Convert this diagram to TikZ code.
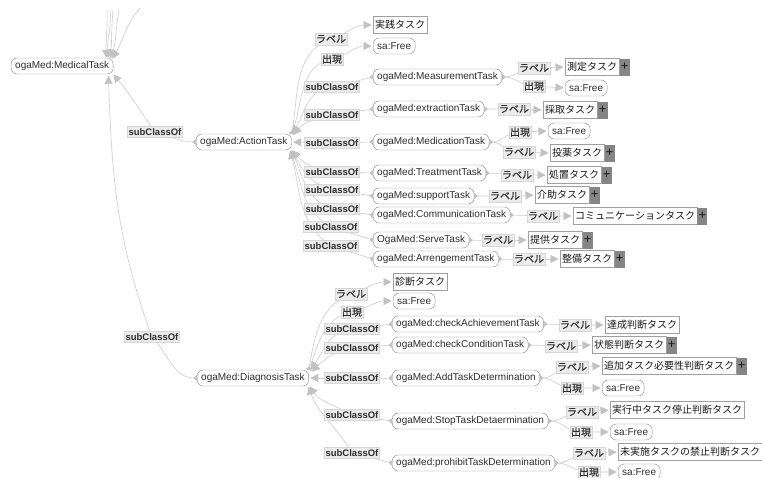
\documentclass[tikz,border=0pt]{standalone}
\usepackage{fontspec}
\setmainfont{Liberation Sans}
\newfontfamily\jpfont{Noto Sans CJK JP}
\newfontfamily\jprelfont[FakeBold=0.8]{Noto Sans CJK JP}
\usetikzlibrary{arrows.meta,calc,backgrounds}

\definecolor{txt}{HTML}{2E2E2E}
\definecolor{clsline}{HTML}{8C8C8C}
\definecolor{litline}{HTML}{A0A0A0}
\definecolor{relfill}{HTML}{EBEBEB}
\definecolor{relline}{HTML}{D6D6D6}
\definecolor{edgecol}{HTML}{CDCDCD}
\definecolor{tipcol}{HTML}{C2C2C2}
\definecolor{plusfill}{HTML}{858585}

\newcommand\dsize{\fontsize{10}{12}\selectfont}

\tikzset{
  cls/.style={draw=clsline, fill=white, rounded corners=6pt, text=txt, font=\dsize,
    inner xsep=4pt, inner ysep=0pt, minimum height=16pt, anchor=west},
  lit/.style={draw=litline, fill=white, text=black!90, font=\jpfont\dsize,
    inner xsep=2pt, inner ysep=0pt, minimum height=17pt, anchor=west},
  plusbox/.style={fill=plusfill, text=black!90, font=\fontsize{13}{13}\selectfont, inner sep=0pt,
    minimum width=10pt, minimum height=17pt, anchor=west},
  rel/.style={fill=relfill, draw=relline, text=txt, font=\jprelfont\dsize,
    inner xsep=1pt, inner ysep=0.5pt, minimum height=12pt},
  sub/.style={rel, font=\bfseries\fontsize{9.5}{11}\selectfont, minimum height=11pt},
  link/.style={draw=edgecol, line width=0.6pt, shorten >=1.5pt,
    {Triangle[reversed,length=3.5pt,width=6pt,color=tipcol]}-{Triangle[length=8pt,width=8pt,color=tipcol]}},
  head/.style={draw=edgecol, line width=0.6pt, -{Triangle[length=8pt,width=8pt,color=tipcol]}}
}

\begin{document}
\begin{tikzpicture}[x=1pt,y=-1pt]
\useasboundingbox (0,0) rectangle (762,477);

% ---------- class hierarchy roots ----------
\node[cls] (M) at (11,66) {ogaMed:MedicalTask};
\node[cls] (A) at (196,142) {ogaMed:ActionTask};
\node[cls] (D) at (197,378) {ogaMed:DiagnosisTask};
\node[sub] (lAM) at (155,132) {subClassOf};
\node[sub] (lDM) at (152,337) {subClassOf};

% ---------- ActionTask ----------
\node[rel] (aL) at (331,39) {ラベル};
\node[lit] (aLv) at (373,25) {実践タスク};
\node[rel] (aO) at (332,59) {出現};
\node[cls] (aOv) at (373,46) {sa:Free};

\node[cls] (c1) at (373,77) {ogaMed:MeasurementTask};
\node[sub] (s1) at (332,87) {subClassOf};
\node[rel] (c1L) at (534,68) {ラベル};
\node[lit] (c1Lv) at (565,67) {測定タスク};
\node[plusbox] (c1Lp) at (c1Lv.east) {+};
\node[rel] (c1O) at (534,86) {出現};
\node[cls] (c1Ov) at (565,88) {sa:Free};

\node[cls] (c2) at (373,109) {ogaMed:extractionTask};
\node[sub] (s2) at (332,115) {subClassOf};
\node[rel] (c2L) at (514,109) {ラベル};
\node[lit] (c2Lv) at (543,110) {採取タスク};
\node[plusbox] (c2Lp) at (c2Lv.east) {+};

\node[cls] (c3) at (373,142) {ogaMed:MedicationTask};
\node[sub] (s3) at (332,143) {subClassOf};
\node[rel] (c3O) at (520,132) {出現};
\node[cls] (c3Ov) at (548,131) {sa:Free};
\node[rel] (c3L) at (519,152) {ラベル};
\node[lit] (c3Lv) at (550,153) {投薬タスク};
\node[plusbox] (c3Lp) at (c3Lv.east) {+};

\node[cls] (c4) at (373,173) {ogaMed:TreatmentTask};
\node[sub] (s4) at (332,172) {subClassOf};
\node[rel] (c4L) at (517,175) {ラベル};
\node[lit] (c4Lv) at (547,175) {処置タスク};
\node[plusbox] (c4Lp) at (c4Lv.east) {+};

\node[cls] (c5) at (373,196) {ogaMed:supportTask};
\node[sub] (s5) at (332,190) {subClassOf};
\node[rel] (c5L) at (505,196) {ラベル};
\node[lit] (c5Lv) at (535,195) {介助タスク};
\node[plusbox] (c5Lp) at (c5Lv.east) {+};

\node[cls] (c6) at (373,215) {ogaMed:CommunicationTask};
\node[sub] (s6) at (332,209) {subClassOf};
\node[rel] (c6L) at (543,216) {ラベル};
\node[lit] (c6Lv) at (573,216) {コミュニケーションタスク};
\node[plusbox] (c6Lp) at (c6Lv.east) {+};

\node[cls] (c7) at (373,240) {OgaMed:ServeTask};
\node[sub] (s7) at (331,227) {subClassOf};
\node[rel] (c7L) at (498,240) {ラベル};
\node[lit] (c7Lv) at (528,240) {提供タスク};
\node[plusbox] (c7Lp) at (c7Lv.east) {+};

\node[cls] (c8) at (373,259) {ogaMed:ArrengementTask};
\node[sub] (s8) at (331,246) {subClassOf};
\node[rel] (c8L) at (529,259) {ラベル};
\node[lit] (c8Lv) at (560,259) {整備タスク};
\node[plusbox] (c8Lp) at (c8Lv.east) {+};

% ---------- DiagnosisTask ----------
\node[rel] (dL) at (351,294) {ラベル};
\node[lit] (dLv) at (393,282) {診断タスク};
\node[rel] (dO) at (352,312) {出現};
\node[cls] (dOv) at (393,301) {sa:Free};

\node[cls] (d1) at (392,324) {ogaMed:checkAchievementTask};
\node[sub] (t1) at (352,329) {subClassOf};
\node[rel] (d1L) at (575,325) {ラベル};
\node[lit] (d1Lv) at (605,325) {達成判断タスク};

\node[cls] (d2) at (392,345) {ogaMed:checkConditionTask};
\node[sub] (t2) at (352,348) {subClassOf};
\node[rel] (d2L) at (561,346) {ラベル};
\node[lit] (d2Lv) at (592,345) {状態判断タスク};
\node[plusbox] (d2Lp) at (d2Lv.east) {+};

\node[cls] (d3) at (392,378) {ogaMed:AddTaskDetermination};
\node[sub] (t3) at (352,378) {subClassOf};
\node[rel] (d3L) at (572,367) {ラベル};
\node[lit] (d3Lv) at (602,366) {追加タスク必要性判断タスク};
\node[plusbox] (d3Lp) at (d3Lv.east) {+};
\node[rel] (d3O) at (572,388) {出現};
\node[cls] (d3Ov) at (602,388) {sa:Free};

\node[cls] (d4) at (392,421) {ogaMed:StopTaskDetaermination};
\node[sub] (t4) at (352,415) {subClassOf};
\node[rel] (d4L) at (582,412) {ラベル};
\node[lit] (d4Lv) at (610,410) {実行中タスク停止判断タスク};
\node[rel] (d4O) at (581,432) {出現};
\node[cls] (d4Ov) at (610,432) {sa:Free};

\node[cls] (d5) at (392,463) {ogaMed:prohibitTaskDetermination};
\node[sub] (t5) at (352,453) {subClassOf};
\node[rel] (d5L) at (589,453) {ラベル};
\node[lit] (d5Lv) at (618,452) {未実施タスクの禁止判断タスク};
\node[rel] (d5O) at (589,472) {出現};
\node[cls] (d5Ov) at (618,472) {sa:Free};

% ---------- connectors ----------
\begin{scope}[on background layer]
\fill[white] (0,0) rectangle (762,477);

% edges arriving at MedicalTask from above
\coordinate (u1) at (107,10);
\coordinate (u2) at (110,10);
\coordinate (u3) at (113,10);
\coordinate (u4) at (119,10);
\coordinate (u5) at (140,8);
\draw[head] (u1) to[out=-88,in=92] ($(M.north east)+(-7,0)$);
\draw[head] (u2) to[out=-85,in=95] ($(M.north east)+(-5,0)$);
\draw[head] (u3) to[out=-95,in=85] ($(M.north east)+(-3,0)$);
\draw[head] (u4) to[out=-100,in=75] ($(M.north east)+(-2,0)$);
\draw[head] (u5) to[out=-130,in=60] ($(M.north east)+(-1,1)$);

\draw[link] (A.west) to[out=180,in=-15] (lAM.center) to[out=125,in=-50] ($(M.south east)+(-1,-1)$);
\draw[link] (D.west) to[out=180,in=-45] (lDM.center) to[out=110,in=-88] ($(M.south east)+(-5,0)$);

% ActionTask
\draw[link] (A.north east) to[out=80,in=200] (aL.center) to[out=20,in=180] (aLv.west);
\draw[link] (A.north east) to[out=70,in=190] (aO.center) to[out=15,in=180] (aOv.west);
\draw[link] (c1.west) -- (s1.center) to[out=185,in=60] ($(A.north east)+(0,1)$);
\draw[link] (c2.west) -- (s2.center) to[out=190,in=50] ($(A.north east)+(1,2)$);
\draw[link] (c3.west) -- (s3.center) -- (A.east);
\draw[link] (c4.west) -- (s4.center) to[out=170,in=-50] ($(A.south east)+(0,-1)$);
\draw[link] (c5.west) -- (s5.center) to[out=165,in=-60] ($(A.south east)+(-1,-1)$);
\draw[link] (c6.west) -- (s6.center) to[out=160,in=-65] ($(A.south east)+(-1,-1)$);
\draw[link] (c7.west) -- (s7.center) to[out=150,in=-70] ($(A.south east)+(-2,-1)$);
\draw[link] (c8.west) -- (s8.center) to[out=145,in=-75] ($(A.south east)+(-2,-1)$);

\draw[link] (c1.east) to[out=0,in=180] (c1L.center) -- (c1Lv.west);
\draw[link] (c1.east) to[out=0,in=180] (c1O.center) -- (c1Ov.west);
\draw[link] (c2.east) -- (c2L.center) -- (c2Lv.west);
\draw[link] (c3.east) to[out=0,in=180] (c3O.center) -- (c3Ov.west);
\draw[link] (c3.east) to[out=0,in=180] (c3L.center) -- (c3Lv.west);
\draw[link] (c4.east) -- (c4L.center) -- (c4Lv.west);
\draw[link] (c5.east) -- (c5L.center) -- (c5Lv.west);
\draw[link] (c6.east) -- (c6L.center) -- (c6Lv.west);
\draw[link] (c7.east) -- (c7L.center) -- (c7Lv.west);
\draw[link] (c8.east) -- (c8L.center) -- (c8Lv.west);

% DiagnosisTask
\draw[link] (D.north east) to[out=80,in=200] (dL.center) to[out=20,in=180] (dLv.west);
\draw[link] (D.north east) to[out=70,in=190] (dO.center) to[out=15,in=180] (dOv.west);
\draw[link] (d1.west) -- (t1.center) to[out=185,in=55] ($(D.north east)+(1,1)$);
\draw[link] (d2.west) -- (t2.center) to[out=190,in=45] ($(D.north east)+(2,3)$);
\draw[link] (d3.west) -- (t3.center) -- (D.east);
\draw[link] (d4.west) -- (t4.center) to[out=150,in=-55] ($(D.south east)+(0,-1)$);
\draw[link] (d5.west) -- (t5.center) to[out=120,in=-70] ($(D.south east)+(-1,-1)$);

\draw[link] (d1.east) -- (d1L.center) -- (d1Lv.west);
\draw[link] (d2.east) -- (d2L.center) -- (d2Lv.west);
\draw[link] (d3.east) to[out=0,in=180] (d3L.center) -- (d3Lv.west);
\draw[link] (d3.east) to[out=0,in=180] (d3O.center) -- (d3Ov.west);
\draw[link] (d4.east) to[out=0,in=180] (d4L.center) -- (d4Lv.west);
\draw[link] (d4.east) to[out=0,in=180] (d4O.center) -- (d4Ov.west);
\draw[link] (d5.east) to[out=0,in=180] (d5L.center) -- (d5Lv.west);
\draw[link] (d5.east) to[out=0,in=180] (d5O.center) -- (d5Ov.west);
\end{scope}
\end{tikzpicture}
\end{document}
